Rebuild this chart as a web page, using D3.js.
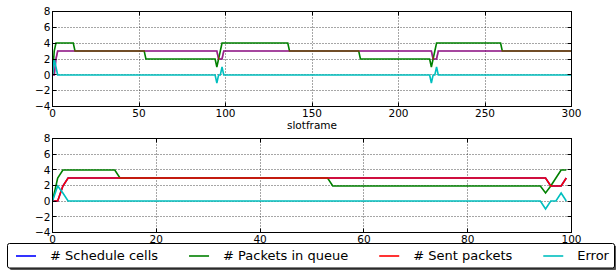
<!DOCTYPE html>
<html>
<head>
<meta charset="utf-8">
<script src="https://cdn.jsdelivr.net/npm/d3@7"></script>
<style>
  body { margin: 0; background: #fff; }
  svg { display: block; font-family: "DejaVu Sans", sans-serif; }
</style>
</head>
<body>
<div id="chart"></div>
<script>
// tick values for both panels
const topXTicks = [0, 50, 100, 150, 200, 250, 300];
const bottomXTicks = [0, 20, 40, 60, 80, 100];
const yTicks = [-4, -2, 0, 2, 4, 6, 8];

// series as [slotframe, value] vertices (the lines are straight between them)
const scheduleTop = [[0,0],[1,0],[2,2],[3,3],[95,3],[96,2],[98,2],[99,3],[219,3],[220,2],[222,2],[223,3],[300,3]];
const queueTop = [[0,0],[1,3],[2,4],[12,4],[13,3],[53,3],[54,2],[94,2],[95,1],[96,2],[97,3],[98,4],
                  [136,4],[137,3],[177,3],[178,2],[218,2],[219,1],[220,2],[221,3],[222,4],[259,4],[260,3],[300,3]];
const sentTop = [[0,0],[1,0],[2,2],[3,3],[95,3],[96,2],[98,2],[99,3],[219,3],[220,2],[222,2],[223,3],[300,3]];
const errorTop = [[0,0],[1,2],[2,1],[3,0],[94,0],[95,-1],[96,0],[97,0],[98,1],[99,0],
                  [218,0],[219,-1],[220,0],[221,0],[222,1],[223,0],[300,0]];

const scheduleBottom = [[0,0],[1,0],[2,2],[3,3],[95,3],[96,2],[98,2],[99,3]];
const queueBottom = [[0,0],[1,3],[2,4],[12,4],[13,3],[53,3],[54,2],[94,2],[95,1],[96,2],[97,3],[98,4],[99,4]];
const sentBottom = [[0,0],[1,0],[2,2],[3,3],[95,3],[96,2],[98,2],[99,3]];
const errorBottom = [[0,0],[1,2],[2,1],[3,0],[94,0],[95,-1],[96,0],[97,0],[98,1],[99,0]];

const legendLabels = ["# Schedule cells", "# Packets in queue", "# Sent packets", "Error"];
const colors = ["#0000ff", "#008000", "#ff0000", "#00bfbf"];

const width = 616, height = 270;

let svg = d3.select("#chart")
    .append("svg")
    .attr("width", width)
    .attr("height", height);

function fmt(v) { return v < 0 ? "\u2212" + Math.abs(v) : String(v); }
// snap to pixel centre (thin rules) or pixel edge (2px data lines)
function px(v) { return Math.round(v - 0.5) + 0.5; }
function edge(v) { return Math.round(v); }

// draws one axes box with grid, ticks and the four lines
// (opac: per-series stroke opacity, the top panel blends the overlapping lines)
function panel(box, xMax, xTicks, series, opac, xLabel) {
    let x = d3.scaleLinear().domain([0, xMax]).range([box.left, box.right]);
    let y = d3.scaleLinear().domain([-4, 8]).range([box.bottom, box.top]);
    let g = svg.append("g");

    // dotted grid
    g.selectAll(".gx").data(xTicks).join("line")
        .attr("x1", d => px(x(d))).attr("x2", d => px(x(d)))
        .attr("y1", box.top).attr("y2", box.bottom)
        .attr("stroke", "#000").attr("stroke-width", 0.7).attr("stroke-dasharray", "1,2");
    g.selectAll(".gy").data(yTicks).join("line")
        .attr("x1", box.left).attr("x2", box.right)
        .attr("y1", d => px(y(d))).attr("y2", d => px(y(d)))
        .attr("stroke", "#000").attr("stroke-width", 0.7).attr("stroke-dasharray", "1,2");

    // data lines
    let clipId = "clip" + Math.round(box.top);
    svg.append("clipPath").attr("id", clipId).append("rect")
        .attr("x", box.left).attr("y", box.top - 1)
        .attr("width", box.right - box.left).attr("height", box.bottom - box.top + 2);
    let line = d3.line().x(d => x(d[0])).y(d => edge(y(d[1])));
    series.forEach((s, i) => {
        g.append("path")
            .attr("d", line(s))
            .attr("fill", "none")
            .attr("stroke", colors[i])
            .attr("stroke-width", 1.6)
            .attr("stroke-opacity", opac[i])
            .attr("clip-path", `url(#${clipId})`);
    });

    // inward ticks on all four sides (classic style)
    const tl = 4;
    g.selectAll(".tb").data(xTicks).join("line")
        .attr("x1", d => px(x(d))).attr("x2", d => px(x(d)))
        .attr("y1", box.bottom).attr("y2", box.bottom - tl).attr("stroke", "#000");
    g.selectAll(".tt").data(xTicks).join("line")
        .attr("x1", d => px(x(d))).attr("x2", d => px(x(d)))
        .attr("y1", box.top).attr("y2", box.top + tl).attr("stroke", "#000");
    g.selectAll(".tl").data(yTicks).join("line")
        .attr("x1", box.left).attr("x2", box.left + tl)
        .attr("y1", d => px(y(d))).attr("y2", d => px(y(d))).attr("stroke", "#000");
    g.selectAll(".tr").data(yTicks).join("line")
        .attr("x1", box.right).attr("x2", box.right - tl)
        .attr("y1", d => px(y(d))).attr("y2", d => px(y(d))).attr("stroke", "#000");

    // frame
    g.append("rect")
        .attr("x", box.left).attr("y", box.top)
        .attr("width", box.right - box.left).attr("height", box.bottom - box.top)
        .attr("fill", "none").attr("stroke", "#000").attr("stroke-width", 1);

    // tick labels
    g.selectAll(".lx").data(xTicks).join("text")
        .attr("x", d => x(d)).attr("y", box.bottom + 10)
        .attr("text-anchor", "middle").attr("font-size", 10.5)
        .text(d => d);
    g.selectAll(".ly").data(yTicks).join("text")
        .attr("x", box.left - 2).attr("y", d => y(d))
        .attr("dy", "0.36em")
        .attr("text-anchor", "end").attr("font-size", 10.5)
        .text(d => fmt(d));

    if (xLabel) {
        g.append("text")
            .attr("x", (box.left + box.right) / 2).attr("y", box.bottom + 22)
            .attr("text-anchor", "middle").attr("font-size", 10.5)
            .text(xLabel);
    }
}

panel({left: 52.5, right: 571.5, top: 11.5, bottom: 106.5}, 300, topXTicks,
      [scheduleTop, queueTop, sentTop, errorTop], [0.75, 1, 0.5, 1], "slotframe");
panel({left: 52.5, right: 571.5, top: 138.5, bottom: 232.5}, 100, bottomXTicks,
      [scheduleBottom, queueBottom, sentBottom, errorBottom], [1, 1, 1, 1], null);

// legend with shadow, four columns in one row
let leg = svg.append("g");
leg.append("rect")
    .attr("x", 9.5).attr("y", 245.5).attr("width", 607).attr("height", 24.5)
    .attr("rx", 2).attr("fill", "#555");
leg.append("rect")
    .attr("x", 7.5).attr("y", 243.5).attr("width", 607).attr("height", 24.5)
    .attr("rx", 2).attr("fill", "#fff").attr("stroke", "#000").attr("stroke-width", 1);

let cx = 16;
legendLabels.forEach((label, i) => {
    leg.append("line")
        .attr("x1", cx).attr("x2", cx + 20)
        .attr("y1", 256).attr("y2", 256)
        .attr("stroke", colors[i]).attr("stroke-width", 1.6);
    let t = leg.append("text")
        .attr("x", cx + 34).attr("y", 260)
        .attr("font-size", 13)
        .text(label);
    cx = cx + 34 + t.node().getComputedTextLength() + 31;
});
</script>
</body>
</html>
